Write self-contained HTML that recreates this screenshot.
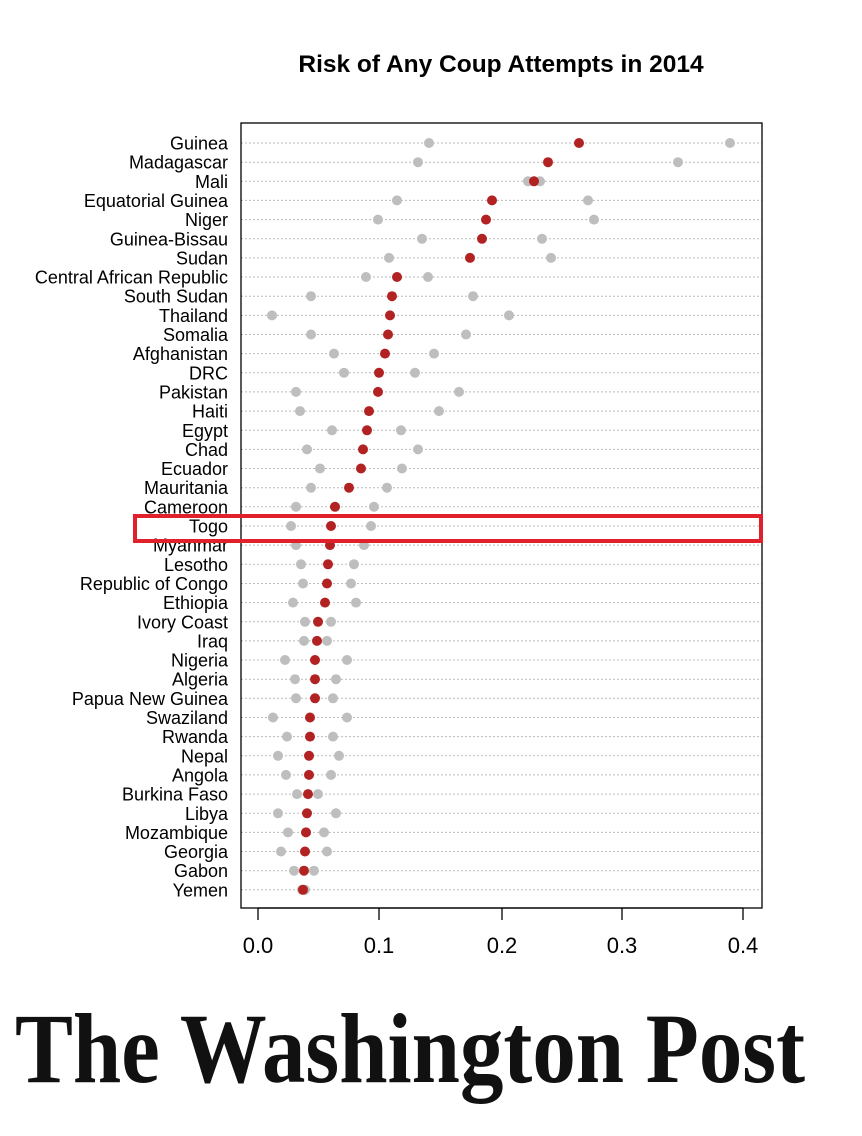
<!DOCTYPE html>
<html><head><meta charset="utf-8"><style>
html,body{margin:0;padding:0;background:#fff;}
svg{display:block;}
</style></head><body>
<svg id="s" width="862" height="1136" xmlns="http://www.w3.org/2000/svg" font-family="Liberation Sans, sans-serif">
<rect width="862" height="1136" fill="#fff"/>
<text x="501" y="72" text-anchor="middle" font-size="24.5" font-weight="bold">Risk of Any Coup Attempts in 2014</text>
<g id="g"></g>
<rect x="241" y="123" width="521" height="785" fill="none" stroke="#000" stroke-width="1.3"/>
<g stroke="#000" stroke-width="1.3">
<line x1="258" y1="908" x2="258" y2="920"/><line x1="379" y1="908" x2="379" y2="920"/><line x1="502" y1="908" x2="502" y2="920"/><line x1="622" y1="908" x2="622" y2="920"/><line x1="743" y1="908" x2="743" y2="920"/>
<line x1="258" y1="908" x2="743" y2="908"/>
</g>
<g font-size="22" text-anchor="middle">
<text x="258" y="953">0.0</text><text x="379" y="953">0.1</text><text x="502" y="953">0.2</text><text x="622" y="953">0.3</text><text x="743" y="953">0.4</text>
</g>
<rect x="135" y="516" width="626" height="25" fill="none" stroke="#e0202a" stroke-width="4"/>
<text x="15" y="1082" font-family="Liberation Serif, serif" font-weight="bold" font-size="100" textLength="790" lengthAdjust="spacingAndGlyphs" fill="#111">The Washington Post</text>
</svg>
<script>
var d=[["Guinea",579,429,730],["Madagascar",548,418,678],["Mali",534,528,540],["Equatorial Guinea",492,397,588],["Niger",486,378,594],["Guinea-Bissau",482,422,542],["Sudan",470,389,551],["Central African Republic",397,366,428],["South Sudan",392,311,473],["Thailand",390,272,509],["Somalia",388,311,466],["Afghanistan",385,334,434],["DRC",379,344,415],["Pakistan",378,296,459],["Haiti",369,300,439],["Egypt",367,332,401],["Chad",363,307,418],["Ecuador",361,320,402],["Mauritania",349,311,387],["Cameroon",335,296,374],["Togo",331,291,371],["Myanmar",330,296,364],["Lesotho",328,301,354],["Republic of Congo",327,303,351],["Ethiopia",325,293,356],["Ivory Coast",318,305,331],["Iraq",317,304,327],["Nigeria",315,285,347],["Algeria",315,295,336],["Papua New Guinea",315,296,333],["Swaziland",310,273,347],["Rwanda",310,287,333],["Nepal",309,278,339],["Angola",309,286,331],["Burkina Faso",308,297,318],["Libya",307,278,336],["Mozambique",306,288,324],["Georgia",305,281,327],["Gabon",304,294,314],["Yemen",303,302,305]];
var h="";
d.forEach(function(r,i){var y=(143+i*19.15).toFixed(1);
h+='<line x1="241" x2="762" y1="'+y+'" y2="'+y+'" stroke="#bbb" stroke-width="1" stroke-dasharray="2,2"/>';
h+='<text x="228" y="'+(+y+6.5)+'" text-anchor="end" font-size="18">'+r[0]+'</text>';
h+='<circle cx="'+r[2]+'" cy="'+y+'" r="5" fill="#bebebe"/><circle cx="'+r[3]+'" cy="'+y+'" r="5" fill="#bebebe"/>';
h+='<circle cx="'+r[1]+'" cy="'+y+'" r="5" fill="#b22222"/>';});
document.getElementById("g").innerHTML=h;
</script>
</body></html>
